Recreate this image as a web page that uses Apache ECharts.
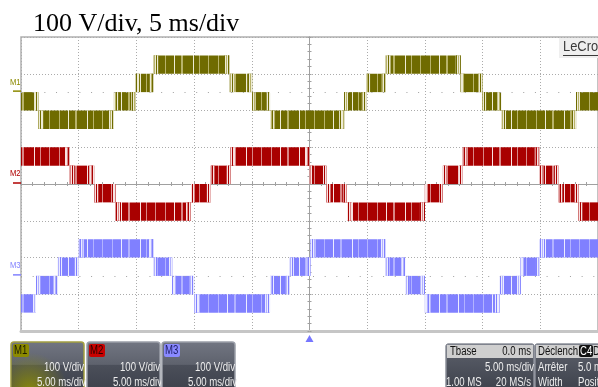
<!DOCTYPE html>
<html>
<head>
<meta charset="utf-8">
<script src="https://cdn.jsdelivr.net/npm/echarts@6/dist/echarts.min.js"></script>
<style>
html, body { margin: 0; padding: 0; background: #fff; }
#main { width: 598px; height: 387px; }
</style>
</head>
<body>
<div id="main"></div>
<script>
// time in ms (trigger at 0), levels in V (outer edge of each PWM band)
const m1Times = [-25, -23.5, -16.95, -15.07, -13.53, -6.93, -4.97, -3.42, 3.0, 4.92, 6.59, 13.1, 14.98, 16.6, 23.1, 25];
const m1Levels = [-50, -100, -50, 50, 100, 50, -50, -100, -50, 50, 100, 50, -50, -100, -50];
const m2Times = [-25, -20.8, -18.66, -16.8, -10.27, -8.56, -6.85, 0, 1.46, 3.25, 10.0, 11.56, 13.27, 19.95, 21.58, 23.3, 25];
const m2Levels = [100, 50, -50, -100, -50, 50, 100, 50, -50, -100, -50, 50, 100, 50, -50, -100];
const m3Times = [-25, -23.7, -21.8, -20.0, -13.5, -11.9, -10.0, -3.42, -1.71, 0.09, 6.59, 8.3, 10.0, 16.5, 18.3, 19.95, 25];
const m3Levels = [-100, -50, 50, 100, 50, -50, -100, -50, 50, 100, 50, -50, -100, -50, 50, 100];
const stepV = 50;
// channel offsets on screen (V)
const m1Offset = 250, m2Offset = 0, m3Offset = -250;

const chart = echarts.init(document.getElementById('main'));

// vertical switching stripes texture
function stripes(seq, dark, light, pale) {
	const c = document.createElement('canvas');
	c.width = seq.length; c.height = 4;
	const ctx = c.getContext('2d');
	for (let i = 0; i < seq.length; i++) {
		ctx.fillStyle = seq[i] === 'D' ? dark : (seq[i] === 'L' ? light : pale);
		ctx.fillRect(i, 0, 1, 4);
	}
	return { type: 'pattern', image: c, repeat: 'repeat' };
}
const denseSeq = 'DDDDDDLDDDDDDDDWDDDDDDLLDDDDDDDDDDWDDDDDLDDDDDDDDLDDD';
const sparseSeq = 'DWLWDWWLDWLW';

function bands(times, levels, offset) {
	const out = [];
	for (let i = 0; i < levels.length; i++) {
		const lv = levels[i];
		const inner = lv - Math.sign(lv) * stepV;
		out.push([times[i], times[i + 1], lv + offset, inner + offset]);
	}
	return out;
}

function bandRender(dense, sparse) {
	return function (params, api) {
		const a = api.coord([api.value(0), api.value(2)]);
		const b = api.coord([api.value(1), api.value(3)]);
		const y = Math.min(a[1], b[1]), h = Math.abs(b[1] - a[1]), w = b[0] - a[0];
		const f = Math.min(5, w / 5);
		const kids = [{ type: 'rect', shape: { x: a[0], y: y, width: w, height: h }, style: { fill: dense } }];
		if (params.dataIndex > 0) kids.push({ type: 'rect', shape: { x: a[0], y: y, width: f, height: h }, style: { fill: sparse } });
		if (params.dataIndex < params.dataInsideLength - 1) kids.push({ type: 'rect', shape: { x: b[0] - f, y: y, width: f, height: h }, style: { fill: sparse } });
		return { type: 'group', children: kids };
	};
}

const gridLine = { show: true, lineStyle: { color: '#ababab', type: [1, 2], width: 1 } };
const centerLine = { show: true, onZero: true, lineStyle: { color: '#a0a0a0', width: 1 } };
const tickStyle = { show: true, length: 2, lineStyle: { color: '#a0a0a0' } };

function baseline(v) {
	return {
		silent: true, symbol: 'none', label: { show: false },
		lineStyle: { color: '#a0a0a0', type: [1, 10.68], width: 1 },
		data: [{ yAxis: v }]
	};
}

function channel(name, times, levels, offset, cols, withBase) {
	const s = {
		type: 'custom', name: name, silent: true,
		renderItem: bandRender(stripes(denseSeq, cols[0], cols[1], cols[2]), stripes(sparseSeq, cols[0], cols[1], cols[2])),
		encode: { x: [0, 1], y: [2, 3] },
		data: bands(times, levels, offset)
	};
	if (withBase) s.markLine = baseline(offset);
	return s;
}

const uiFont = "12px 'Liberation Sans', Arial, sans-serif";

function txt(x, y, s, fill, align) {
	return {
		type: 'text', x: x, y: y, scaleX: 0.8,
		style: { text: s, fill: fill, font: uiFont, align: align || 'left', verticalAlign: 'middle' }
	};
}

function descBox(x, name, tagColor, tagText, border, glow) {
	const els = [{
		type: 'rect', shape: { x: x, y: 342, width: 73, height: 50, r: 3 },
		style: {
			fill: new echarts.graphic.LinearGradient(0, 0, 0, 1, [
				{ offset: 0, color: '#727682' }, { offset: 0.45, color: '#5e626d' },
				{ offset: 0.46, color: '#4b4f5a' }, { offset: 1, color: '#3c404a' }
			]),
			stroke: border, lineWidth: 1.5
		}
	}];
	if (glow) {
		els.push({
			type: 'rect', shape: { x: x + 1, y: 343, width: 71, height: 48, r: 3 },
			style: {
				fill: new echarts.graphic.RadialGradient(0.25, 1, 0.8, [
					{ offset: 0, color: 'rgba(150,150,0,0.85)' }, { offset: 1, color: 'rgba(150,150,0,0)' }
				])
			}
		});
	}
	els.push(
		{ type: 'rect', shape: { x: x + 2, y: 344, width: 16, height: 13, r: 2 }, style: { fill: tagColor } },
		txt(x + 3, 351, name, tagText),
		txt(x + 73, 368, '100 V/div', '#eeeeee', 'right'),
		txt(x + 75, 383, '5.00 ms/div', '#eeeeee', 'right')
	);
	return els;
}

const darkBox = new echarts.graphic.LinearGradient(0, 0, 0, 1, [
	{ offset: 0, color: '#5e626d' }, { offset: 1, color: '#3c404a' }
]);

const bottomEls = [].concat(
	descBox(11, 'M1', '#8c8a00', '#1c1c00', '#a3a040', true),
	descBox(87, 'M2', '#c80000', '#2a0000', '#9a9ea8', false),
	descBox(162, 'M3', '#8a8aff', '#20206a', '#9a9ea8', false),
	[
		{ type: 'rect', shape: { x: 446, y: 344, width: 88, height: 48, r: 2 }, style: { fill: darkBox, stroke: '#8a8e98', lineWidth: 1 } },
		{ type: 'rect', shape: { x: 447, y: 345, width: 86, height: 13 }, style: { fill: '#cfcfcf' } },
		txt(450, 351.5, 'Tbase', '#111'), txt(531, 351.5, '0.0 ms', '#111', 'right'),
		txt(534, 368, '5.00 ms/div', '#eeeeee', 'right'),
		txt(446, 383, '1.00 MS', '#eeeeee'), txt(531, 383, '20 MS/s', '#eeeeee', 'right'),
		{ type: 'rect', shape: { x: 535, y: 344, width: 70, height: 48, r: 2 }, style: { fill: darkBox, stroke: '#8a8e98', lineWidth: 1 } },
		{ type: 'rect', shape: { x: 536, y: 345, width: 68, height: 13 }, style: { fill: '#cfcfcf' } },
		txt(538, 351.5, 'Déclench', '#111'),
		{ type: 'rect', shape: { x: 579, y: 345, width: 14, height: 12, r: 2 }, style: { fill: '#111' } },
		txt(580, 351.5, 'C4', '#ffffff'), txt(593, 351.5, 'DC', '#111'),
		txt(538, 368, 'Arrêter', '#eeeeee'), txt(578, 368, '5.0 ms', '#eeeeee'),
		txt(538, 383, 'Width', '#eeeeee'), txt(578, 383, 'Position', '#eeeeee'),
		// LeCroy badge
		{ type: 'rect', shape: { x: 559, y: 38, width: 45, height: 20 }, style: { fill: '#efefef' } },
		{ type: 'text', x: 563, y: 47, scaleX: 0.92, style: { text: 'LeCroy', fill: '#3a3a3a', font: "14px 'Liberation Sans', Arial, sans-serif", verticalAlign: 'middle' } },
		{ type: 'line', shape: { x1: 563, y1: 55.5, x2: 600, y2: 55.5 }, style: { stroke: '#3a3a3a', lineWidth: 1 } }
	]
);

chart.setOption({
	animation: false,
	backgroundColor: '#ffffff',
	title: {
		text: '100 V/div, 5 ms/div', left: 28, top: 6,
		textStyle: { fontFamily: "'Liberation Serif', 'Times New Roman', serif", fontSize: 26, fontWeight: 'normal', color: '#000' }
	},
	grid: { left: 21, top: 37, width: 584, height: 294, show: true, borderColor: '#b0b0b0', borderWidth: 1.5 },
	xAxis: [
		{ type: 'value', min: -25, max: 25, interval: 5, axisLine: centerLine,
			axisTick: tickStyle, minorTick: Object.assign({ splitNumber: 5 }, tickStyle),
			axisLabel: { show: false }, splitLine: gridLine },
		{ type: 'value', position: 'top', min: -25, max: 25, interval: 5, axisLine: centerLine,
			axisTick: tickStyle, minorTick: Object.assign({ splitNumber: 5 }, tickStyle),
			axisLabel: { show: false }, splitLine: { show: false } },
		{ type: 'value', position: 'bottom', min: -25, max: 25, interval: 5,
			axisLine: { show: true, onZero: false, lineStyle: { color: '#c6c6c6', width: 3 } },
			axisTick: { show: false }, axisLabel: { show: false }, splitLine: { show: false } }
	],
	yAxis: [
		{ type: 'value', min: -400, max: 400, interval: 100, axisLine: centerLine,
			axisTick: tickStyle, minorTick: Object.assign({ splitNumber: 5 }, tickStyle),
			axisLabel: { show: false }, splitLine: gridLine },
		{ type: 'value', position: 'right', min: -400, max: 400, interval: 100, axisLine: centerLine,
			axisTick: tickStyle, minorTick: Object.assign({ splitNumber: 5 }, tickStyle),
			axisLabel: { show: false }, splitLine: { show: false } }
	],
	series: [
		channel('M1', m1Times, m1Levels, m1Offset, ['#6f6b00', '#b8b36a', '#eeecd6'], true),
		channel('M2', m2Times, m2Levels, m2Offset, ['#a90000', '#d98686', '#f8e2e2'], false),
		channel('M3', m3Times, m3Levels, m3Offset, ['#8080ff', '#b2b2ff', '#ececff'], true)
	],
	graphic: bottomEls
});

// channel markers left of the grid and trigger marker, placed through the axes
const marks = [['M1', m1Offset, '#8c8a00'], ['M2', m2Offset, '#b00000'], ['M3', m3Offset, '#8383ff']];
const extra = [];
marks.forEach(function (m) {
	const y = chart.convertToPixel({ yAxisIndex: 0 }, m[1]);
	extra.push(
		{ type: 'text', x: 10, y: y - 10, scaleX: 0.85, style: { text: m[0], fill: m[2], font: "9px 'Liberation Sans', Arial, sans-serif", verticalAlign: 'middle' } },
		{ type: 'line', shape: { x1: 13, y1: y - 1, x2: 21, y2: y - 1 }, style: { stroke: m[2], lineWidth: 1.5 } }
	);
});
const tx = chart.convertToPixel({ xAxisIndex: 0 }, 0);
extra.push({ type: 'polygon', shape: { points: [[tx - 4, 342], [tx + 4, 342], [tx, 335]] }, style: { fill: '#7676ff' } });
chart.setOption({ graphic: bottomEls.concat(extra) });
</script>
</body>
</html>
